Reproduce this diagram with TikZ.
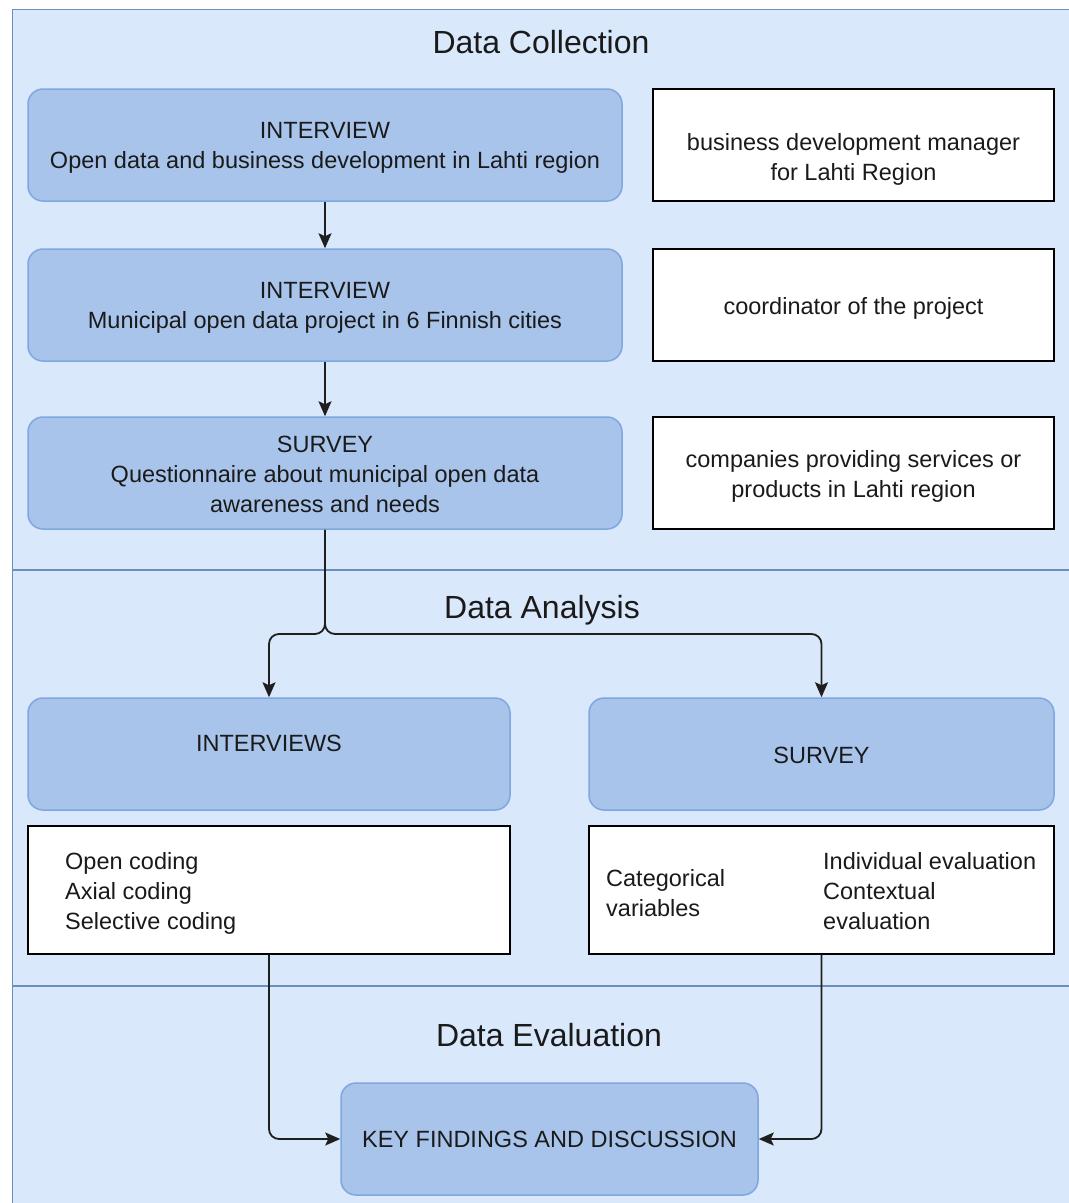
\documentclass[tikz,border=0pt]{standalone}
\usepackage{fontspec}
\setmainfont{Liberation Sans}
\usetikzlibrary{arrows.meta}
\definecolor{bgfill}{HTML}{DAE8FC}
\definecolor{bgline}{HTML}{6C8EBF}
\definecolor{boxfill}{HTML}{A9C4EB}
\definecolor{boxline}{HTML}{7EA6E0}
\definecolor{txt}{HTML}{1A1A1A}
\definecolor{wire}{HTML}{1F1F1F}
\begin{document}
\begin{tikzpicture}[x=1pt,y=-1pt,
  bluebox/.style={draw=boxline, fill=boxfill, line width=1.5pt, rounded corners=15pt, minimum height=112pt, inner sep=0pt},
  whitebox/.style={draw=black, fill=white, line width=1.3pt, inner sep=0pt},
  body/.style={font=\fontsize{23.5}{30}\selectfont, text=txt, align=center, inner sep=0pt},
  title/.style={font=\fontsize{32}{38}\selectfont, text=txt, inner sep=0pt},
  conn/.style={draw=wire, line width=1.8pt, -{Stealth[length=15pt,width=13pt,inset=3pt]}},
  lane/.style={draw=bgline, line width=1.5pt}
]
\path[use as bounding box, clip] (0,0) rectangle (1069,1203);
\fill[white] (0,0) rectangle (1069,1203);
% lanes
\path[lane, fill=bgfill] (12.5,9.5) rectangle (1090,1220);
\draw[lane] (12.5,570) -- (1090,570);
\draw[lane] (12.5,986) -- (1090,986);

\node[title] (t1) at (541,42) {Data Collection};
\node[title] (t2) at (542,610) {Data Analysis};
\node[title] (t3) at (549,1035) {Data Evaluation};

% Data collection
\node[bluebox, minimum width=594pt] (b1) at (325,145) {};
\node[body] (b1t) at (325,148) {INTERVIEW\\Open data and business development in Lahti region};
\node[bluebox, minimum width=594pt] (b2) at (325,305) {};
\node[body] (b2t) at (325,308) {INTERVIEW\\Municipal open data project in 6 Finnish cities};
\node[bluebox, minimum width=594pt] (b3) at (325,473) {};
\node[body] (b3t) at (325,474) {SURVEY\\Questionnaire about municipal open data\\awareness and needs};

\node[whitebox, minimum width=401pt, minimum height=112pt] (w1) at (853.5,145) {};
\node[body] (w1t) at (853.5,159) {business development manager\\for Lahti Region};
\node[whitebox, minimum width=401pt, minimum height=112pt] (w2) at (853.5,305) {};
\node[body] (w2t) at (853.5,308) {coordinator of the project};
\node[whitebox, minimum width=401pt, minimum height=112pt] (w3) at (853.5,473) {};
\node[body] (w3t) at (853.5,476.5) {companies providing services or\\products in Lahti region};

% Data analysis
\node[bluebox, minimum width=482pt] (ai) at (269,754) {};
\node[body] (ait) at (269,743) {INTERVIEWS};
\node[bluebox, minimum width=465pt] (as) at (821.5,754) {};
\node[body] (ast) at (821.5,755) {SURVEY};

\node[whitebox, minimum width=482pt, minimum height=128pt] (ci) at (269,890) {};
\node[body, align=left, anchor=west] (cit) at (65,893) {Open coding\\Axial coding\\Selective coding};
\node[whitebox, minimum width=465pt, minimum height=128pt] (cs) at (821.5,890) {};
\node[body, align=left, anchor=west] (cst1) at (606,893) {Categorical\\variables};
\node[body, align=left, anchor=west] (cst2) at (823,891) {Individual evaluation\\Contextual\\evaluation};

% Data evaluation
\node[bluebox, minimum width=417pt] (key) at (549.5,1139) {};
\node[body] (keyt) at (549.5,1139) {KEY FINDINGS AND DISCUSSION};

% connectors
\coordinate (split) at (325,634);
\draw[conn] (b1) -- (b2);
\draw[conn] (b2) -- (b3);
\draw[conn, rounded corners=10pt] (b3.south) -- (split) -| (ai.north);
\draw[conn, rounded corners=10pt] (b3.south) -- (split) -| (as.north);
\draw[conn, rounded corners=10pt] (ci.south) |- (key.west);
\draw[conn, rounded corners=10pt] (cs.south) |- (key.east);
\end{tikzpicture}
\end{document}
